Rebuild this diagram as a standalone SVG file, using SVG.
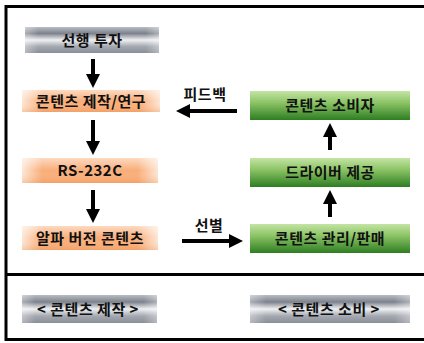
<svg xmlns="http://www.w3.org/2000/svg" width="424" height="343" viewBox="0 0 424 343">
<defs>
<linearGradient id="gray" x1="0" y1="0" x2="0" y2="1">
<stop offset="0" stop-color="#b8bcc4"/>
<stop offset="0.25" stop-color="#7e828c"/>
<stop offset="0.5" stop-color="#eef0f2"/>
<stop offset="0.75" stop-color="#a4a8b0"/>
<stop offset="1" stop-color="#8a8e96"/>
</linearGradient>
<linearGradient id="orange" x1="0" y1="0" x2="1" y2="0">
<stop offset="0" stop-color="#fde6d4"/>
<stop offset="0.15" stop-color="#f9ad78"/>
<stop offset="0.85" stop-color="#f9ad78"/>
<stop offset="1" stop-color="#fde6d4"/>
</linearGradient>
<linearGradient id="oshade" x1="0" y1="0" x2="0" y2="1">
<stop offset="0" stop-color="#fff" stop-opacity="0.55"/>
<stop offset="0.5" stop-color="#fff" stop-opacity="0"/>
<stop offset="1" stop-color="#e07a30" stop-opacity="0.25"/>
</linearGradient>
<linearGradient id="green" x1="0" y1="0" x2="0" y2="1">
<stop offset="0" stop-color="#c4e4a4"/>
<stop offset="0.4" stop-color="#8cc466"/>
<stop offset="1" stop-color="#2e7e22"/>
</linearGradient>
<linearGradient id="edgefade" x1="0" y1="0" x2="1" y2="0">
<stop offset="0" stop-color="#fff" stop-opacity="0.35"/>
<stop offset="0.1" stop-color="#fff" stop-opacity="0"/>
<stop offset="0.9" stop-color="#fff" stop-opacity="0"/>
<stop offset="1" stop-color="#fff" stop-opacity="0.35"/>
</linearGradient>
<marker id="ah" markerWidth="3.5" markerHeight="3.5" refX="1.5" refY="1.75" orient="auto" markerUnits="strokeWidth">
<path d="M0,0 L3.5,1.75 L0,3.5 z" fill="#000"/>
</marker>
</defs>
<style>
.t{font-family:"Noto Sans CJK KR","Noto Sans",sans-serif;font-size:15px;font-weight:bold;fill:#111;text-anchor:middle;letter-spacing:0.5px}
.c{stroke:#000;stroke-width:4;fill:none;marker-end:url(#ah)}
</style>
<rect x="0" y="0" width="424" height="343" fill="#fff"/>
<rect x="6" y="6.5" width="422" height="333" fill="none" stroke="#000" stroke-width="3"/>
<line x1="6" y1="274.5" x2="424" y2="274.5" stroke="#000" stroke-width="3"/>

<g id="n1"><rect x="25" y="27" width="134" height="26" fill="url(#gray)"/><rect x="25" y="27" width="134" height="26" fill="url(#edgefade)"/><text class="t" x="92" y="45.5">선행 투자</text></g>
<g id="n2"><rect x="22" y="90" width="138" height="22" fill="url(#orange)"/><rect x="22" y="90" width="138" height="22" fill="url(#oshade)"/><text class="t" x="91" y="106.5">콘텐츠 제작/연구</text></g>
<g id="n3"><rect x="22" y="158" width="136" height="25" fill="url(#orange)"/><rect x="22" y="158" width="136" height="25" fill="url(#oshade)"/><text class="t" x="90" y="176">RS-232C</text></g>
<g id="n4"><rect x="22" y="226" width="136" height="24" fill="url(#orange)"/><rect x="22" y="226" width="136" height="24" fill="url(#oshade)"/><text class="t" x="90" y="243.5">알파 버전 콘텐츠</text></g>
<g id="n5"><rect x="250" y="91" width="160" height="29" fill="url(#green)"/><text class="t" x="330" y="110.5">콘텐츠 소비자</text></g>
<g id="n6"><rect x="250" y="158" width="160" height="29" fill="url(#green)"/><text class="t" x="330" y="177.5">드라이버 제공</text></g>
<g id="n7"><rect x="250" y="224" width="160" height="29" fill="url(#green)"/><text class="t" x="330" y="244">콘텐츠 관리/판매</text></g>
<g id="n8"><rect x="22" y="295" width="135" height="28" fill="url(#gray)"/><rect x="22" y="295" width="135" height="28" fill="url(#edgefade)"/><text class="t" x="88" y="314.5">&lt; 콘텐츠 제작 &gt;</text></g>
<g id="n9"><rect x="250" y="295" width="160" height="28" fill="url(#gray)"/><rect x="250" y="295" width="160" height="28" fill="url(#edgefade)"/><text class="t" x="329" y="314.5">&lt; 콘텐츠 소비 &gt;</text></g>

<g id="connectors">
<line class="c" x1="93" y1="59" x2="93" y2="80"/>
<line class="c" x1="93" y1="120" x2="93" y2="147"/>
<line class="c" x1="93" y1="190" x2="93" y2="215"/>
<line class="c" x1="237" y1="111" x2="184" y2="111"/>
<line class="c" x1="182" y1="241" x2="235" y2="241"/>
<line class="c" x1="330" y1="150" x2="330" y2="131"/>
<line class="c" x1="330" y1="217" x2="330" y2="198"/>
<text class="t" x="205" y="100">피드백</text>
<text class="t" x="209" y="231">선별</text>
</g>
</svg>
